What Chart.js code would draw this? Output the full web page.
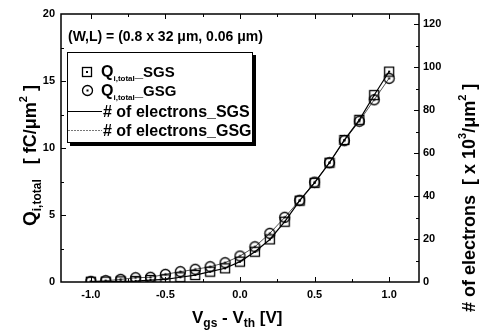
<!DOCTYPE html>
<html>
<head>
<meta charset="utf-8">
<script src="https://cdn.jsdelivr.net/npm/chart.js@4/dist/chart.umd.min.js"></script>
<style>
body{margin:0;background:#fff}
</style>
</head>
<body>
<canvas id="qChart" width="481" height="334"></canvas>
<script>

// Vgs - Vth sweep [V]
let vg=[-1.0,-0.9,-0.8,-0.7,-0.6,-0.5,-0.4,-0.3,-0.2,-0.1,0.0,0.1,0.2,0.3,0.4,0.5,0.6,0.7,0.8,0.9,1.0]

// inversion charge [fC/um^2]
let qSGS=[0.02,0.03,0.05,0.07,0.15,0.2,0.35,0.52,0.77,1.02,1.52,2.26,3.18,4.5,6.07,7.4,8.9,10.6,12.1,13.95,15.7]
let qGSG=[0.05,0.1,0.2,0.32,0.35,0.57,0.77,0.95,1.14,1.44,1.94,2.63,3.63,4.83,6.1,7.45,8.9,10.55,12.0,13.6,15.2]

// electrons [x10^3 / um^2]
let eSGS=[0.1,0.2,0.3,0.4,0.9,1.2,2.2,3.2,4.8,6.4,9.5,14.1,19.8,28.1,37.9,46.2,55.6,66.2,75.5,87.1,98.0]
let eGSG=[0.3,0.6,1.2,2.0,2.2,3.6,4.8,5.9,7.1,9.0,12.1,16.4,22.7,30.1,38.1,46.5,55.6,65.9,74.9,84.9,94.9]

let xTicks=[-1.0,-0.5,0.0,0.5,1.0]
let yTicks=[0,5,10,15,20]
let y2Ticks=[0,20,40,60,80,100,120]

let FONT="'Liberation Sans', Arial, sans-serif"

function sqMark(){
let c=document.createElement("canvas")
c.width=12;c.height=12
let g=c.getContext("2d")
g.strokeStyle="#000";g.lineWidth=1.3
g.strokeRect(1.5,1.5,9,9)
g.fillStyle="#000";g.fillRect(5,5,2,2)
return c
}

function ciMark(){
let c=document.createElement("canvas")
c.width=13;c.height=13
let g=c.getContext("2d")
g.strokeStyle="#000";g.lineWidth=1.3
g.beginPath();g.arc(6.5,6.5,5,0,Math.PI*2);g.stroke()
g.fillStyle="#000";g.fillRect(5.5,5.5,2,2)
return c
}

let SQ=sqMark()
let CI=ciMark()

// text runs with sub/superscripts, drawn from a start point
function runs(ctx,parts,x,y,ang){
ctx.save()
ctx.translate(x,y)
ctx.rotate(ang||0)
ctx.textBaseline="alphabetic"
ctx.textAlign="left"
ctx.fillStyle="#000"
let px=0
parts.forEach(p=>{
ctx.font="bold "+p[1]+"px "+FONT
ctx.fillText(p[0],px,p[2])
px+=ctx.measureText(p[0]).width
})
ctx.restore()
}

function ticksOn(scale,list){
scale.ticks=list.map(v=>({value:v}))
}

let decor={
id:"decor",
afterDraw(chart){
let ctx=chart.ctx
let a=chart.chartArea
let sx=chart.scales.x, sy=chart.scales.y, sy2=chart.scales.y2

ctx.save()
ctx.strokeStyle="#000"
ctx.lineWidth=1.5
ctx.strokeRect(a.left,a.top,a.right-a.left,a.bottom-a.top)

ctx.lineWidth=1
ctx.beginPath()
for(let v=-1.0;v<=1.001;v+=0.25){
let p=Math.round(sx.getPixelForValue(v))+0.5
let len=Math.abs(v*2-Math.round(v*2))<0.01?5:3
ctx.moveTo(p,a.bottom);ctx.lineTo(p,a.bottom-len)
ctx.moveTo(p,a.top);ctx.lineTo(p,a.top+len)
}
for(let v=2.5;v<20;v+=2.5){
let p=Math.round(sy.getPixelForValue(v))+0.5
let len=v%5==0?5:3
ctx.moveTo(a.left,p);ctx.lineTo(a.left+len,p)
}
for(let v=10;v<=120;v+=10){
let p=Math.round(sy2.getPixelForValue(v))+0.5
let len=v%20==0?5:3
ctx.moveTo(a.right,p);ctx.lineTo(a.right-len,p)
}
ctx.stroke()

// axis titles
runs(ctx,[["Q",19,0],["i,total",12,5],["   [ fC/\u03bcm",18,0],["2",11,-9],[" ]",18,0]],36,226,-Math.PI/2)
runs(ctx,[["# of electrons  [ x 10",18,0],["3",11,-9],["/\u03bcm",18,0],["2",11,-9],[" ]",18,0]],475,312,-Math.PI/2)
runs(ctx,[["V",17,0],["gs",12,4],[" - V",17,0],["th",12,4],[" [V]",17,0]],192,323)

// device size note
runs(ctx,[["(W,L) = (0.8 x 32 \u03bcm, 0.06 \u03bcm)",14,0]],68,41)

// legend box with drop shadow
ctx.fillStyle="#000"
ctx.fillRect(70,55,186,91)
ctx.fillStyle="#fff"
ctx.fillRect(67,52,186,91)
ctx.lineWidth=1
ctx.strokeRect(67.5,52.5,185,90)

ctx.drawImage(SQ,81,66)
ctx.drawImage(CI,81,84)
runs(ctx,[["Q",16,0],["i,total",8,4],["_SGS",15,0]],101,77)
runs(ctx,[["Q",16,0],["i,total",8,4],["_GSG",15,0]],101,96)

ctx.beginPath()
ctx.strokeStyle="#000";ctx.lineWidth=1.2
ctx.moveTo(68,111.5);ctx.lineTo(102,111.5)
ctx.stroke()
ctx.beginPath()
ctx.strokeStyle="#777";ctx.lineWidth=1
ctx.setLineDash([2,1])
ctx.moveTo(68,130.5);ctx.lineTo(102,130.5)
ctx.stroke()
ctx.setLineDash([])
runs(ctx,[["# of electrons_SGS",16,0]],103,117)
runs(ctx,[["# of electrons_GSG",16,0]],103,136)

ctx.restore()
}
}

let tickFont={family:FONT,size:11,weight:"bold"}

new Chart(document.getElementById("qChart"),{

type:"scatter",

data:{
datasets:[
{label:"# of electrons_SGS",data:vg.map((v,i)=>({x:v,y:eSGS[i]})),yAxisID:"y2",showLine:true,pointRadius:0,borderColor:"#000",borderWidth:1.2,order:3},
{label:"# of electrons_GSG",data:vg.map((v,i)=>({x:v,y:eGSG[i]})),yAxisID:"y2",showLine:true,pointRadius:0,borderColor:"#555",borderWidth:1,order:4},
{label:"Qi,total_SGS",data:vg.map((v,i)=>({x:v,y:qSGS[i]})),yAxisID:"y",pointStyle:SQ,pointRadius:5,order:1},
{label:"Qi,total_GSG",data:vg.map((v,i)=>({x:v,y:qGSG[i]})),yAxisID:"y",pointStyle:CI,pointRadius:5,order:2}
]
},

options:{
responsive:false,
animation:false,
layout:{padding:{top:14,left:0,right:0,bottom:0}},
plugins:{legend:{display:false},tooltip:{enabled:false}},
scales:{
x:{
type:"linear",position:"bottom",min:-1.2,max:1.2,
afterBuildTicks:s=>ticksOn(s,xTicks),
afterFit:s=>{s.height=52},
grid:{display:false,drawTicks:false},border:{display:false},
ticks:{font:tickFont,color:"#000",padding:6,maxRotation:0,callback:v=>v.toFixed(1)}
},
y:{
position:"left",min:0,max:20,
afterBuildTicks:s=>ticksOn(s,yTicks),
afterFit:s=>{s.width=61},
grid:{display:false,drawTicks:false},border:{display:false},
ticks:{font:tickFont,color:"#000",padding:6}
},
y2:{
position:"right",min:0,max:124.8,
afterBuildTicks:s=>ticksOn(s,y2Ticks),
afterFit:s=>{s.width=62},
grid:{display:false,drawTicks:false},border:{display:false},
ticks:{font:tickFont,color:"#000",padding:4}
}
}
},

plugins:[decor]

})

</script>
</body>
</html>
